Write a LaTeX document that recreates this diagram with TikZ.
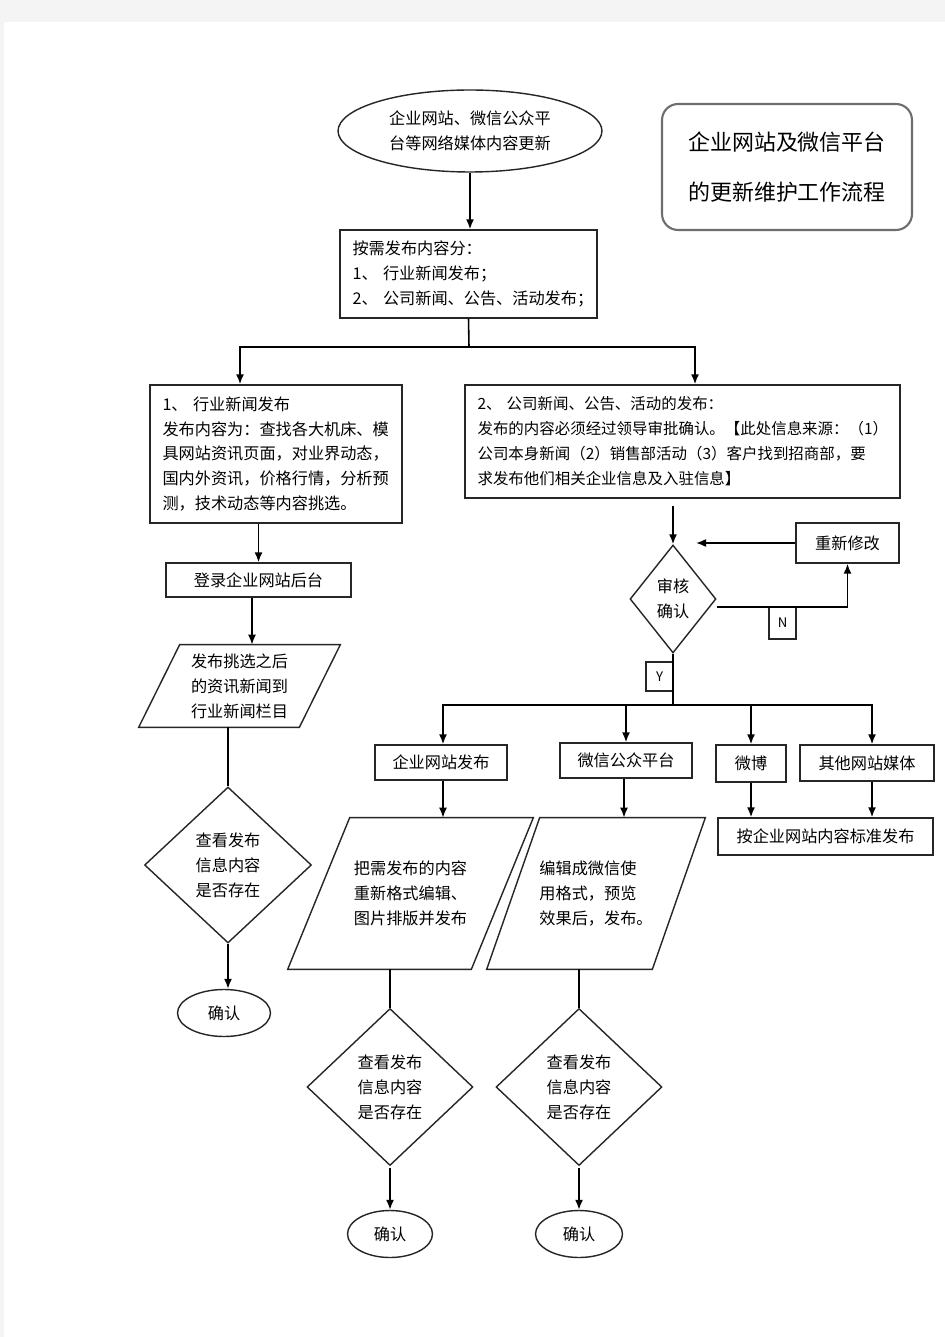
\documentclass[tikz,border=0pt]{standalone}
\usepackage{fontspec}
\setmainfont{Noto Sans CJK SC}
\usepackage{tikz}
\usetikzlibrary{arrows.meta, shapes.geometric}
\definecolor{pageGray}{HTML}{F4F4F4}
\definecolor{titleGray}{HTML}{6E6E6E}
\tikzstyle{fText} = [font=\fontsize{9.2}{14.2}\selectfont]
\tikzstyle{fBox} = [rectangle, draw=black!85, line width=0.8pt, fText, inner sep=0pt, align=center]
\tikzstyle{fNote} = [fBox, align=left, inner xsep=0.25cm]
\tikzstyle{fStartStop} = [ellipse, draw=black!85, line width=0.8pt, fText, inner sep=0pt, align=center]
\tikzstyle{fDecision} = [diamond, draw=black!85, line width=0.8pt, fText, inner sep=0pt, align=left]
\tikzstyle{fSlant} = [rectangle, fText, inner sep=0pt, align=left]
\tikzstyle{fTag} = [rectangle, draw=black!85, line width=0.6pt, font=\fontsize{7.5}{9}\selectfont, inner sep=0pt, minimum width=0.54cm]
\tikzstyle{fTitle} = [rectangle, rounded corners=0.32cm, draw=titleGray, line width=1.2pt, font=\fontsize{12.5}{28}\selectfont, align=center]
\tikzstyle{fArrow} = [line width=0.9pt, -{Latex[length=2mm, width=1.6mm]}]
\tikzstyle{fLine} = [line width=0.9pt]
\newcommand{\slantframe}[2]{\draw[draw=black!85, line width=0.8pt] (#1.south west) -- ([xshift=#2]#1.north west) -- (#1.north east) -- ([xshift=-#2]#1.south east) -- cycle;}

\begin{document}
\begin{tikzpicture}[x=0.02cm, y=-0.02cm]
    \fill[pageGray] (0,0) rectangle (945,1337);
    \fill[white] (4,22) rectangle (945,1337);
    \useasboundingbox (0,0) rectangle (945,1337);

    \node (start) [fStartStop, minimum width=5.28cm, minimum height=1.64cm] at (470,131) {企业网站、微信公众平\\台等网络媒体内容更新};
    \node (title) [fTitle, minimum width=5cm, minimum height=2.52cm] at (787,167) {企业网站及微信平台\\的更新维护工作流程};
    \node (sortBox) [fNote, minimum width=5.14cm, minimum height=1.76cm, text width=4.64cm] at (468.5,274) {按需发布内容分：\\1、~行业新闻发布；\\2、~公司新闻、公告、活动发布；};
    \node (industryBox) [fNote, minimum width=5.04cm, minimum height=2.76cm, text width=4.54cm] at (276,454) {1、~行业新闻发布\\发布内容为：查找各大机床、模\\具网站资讯页面，对业界动态，\\国内外资讯，价格行情，分析预\\测，技术动态等内容挑选。};
    \node (companyBox) [fNote, minimum width=8.7cm, minimum height=2.26cm, text width=8.2cm, font=\fontsize{8.8}{14.2}\selectfont] at (682.5,441.5) {2、~公司新闻、公告、活动的发布：\\发布的内容必须经过领导审批确认。【此处信息来源：（1）\\公司本身新闻（2）销售部活动（3）客户找到招商部，要\\求发布他们相关企业信息及入驻信息】};
    \node (login) [fBox, minimum width=3.7cm, minimum height=0.68cm] at (258.5,580) {登录企业网站后台};
    \node (postNews) [fSlant, minimum width=4.02cm, minimum height=1.64cm] at (239.5,686) {发布挑选之后\\的资讯新闻到\\行业新闻栏目};
    \node (checkA) [fDecision, minimum width=3.34cm, minimum height=3.12cm] at (228,865) {查看发布\\信息内容\\是否存在};
    \node (okA) [fStartStop, minimum width=1.86cm, minimum height=0.94cm] at (224,1013) {确认};

    \node (audit) [fDecision, minimum width=1.72cm, minimum height=2.16cm, aspect=0.8] at (673,599) {审核\\确认};
    \node (redo) [fBox, minimum width=2.06cm, minimum height=0.8cm] at (847.5,543) {重新修改};
    \node (tagN) [fTag, minimum height=0.64cm] at (782.5,623) {N};
    \node (tagY) [fTag, minimum height=0.58cm] at (659.5,676.5) {Y};
    \coordinate (split) at (469,347);
    \coordinate (bus) at (673,705);
    \coordinate (redoEnd) at (696,543);
    \node (siteBox) [fBox, minimum width=2.64cm, minimum height=0.7cm] at (441,762.5) {企业网站发布};
    \node (wechatBox) [fBox, minimum width=2.64cm, minimum height=0.7cm] at (626,760.5) {微信公众平台};
    \node (weiboBox) [fBox, minimum width=1.4cm, minimum height=0.74cm] at (751,763.5) {微博};
    \node (otherBox) [fBox, minimum width=2.68cm, minimum height=0.72cm] at (867,763) {其他网站媒体};
    \node (stdBox) [fBox, minimum width=4.3cm, minimum height=0.74cm] at (825.5,836.5) {按企业网站内容标准发布};
    \node (siteEdit) [fSlant, minimum width=4.9cm, minimum height=3.02cm] at (410.5,893.5) {把需发布的内容\\重新格式编辑、\\图片排版并发布};
    \node (wechatEdit) [fSlant, minimum width=4.36cm, minimum height=3.02cm] at (596,893.5) {编辑成微信使\\用格式，预览\\效果后，发布。};
    \node (checkB) [fDecision, minimum width=3.32cm, minimum height=3.14cm] at (390,1087) {查看发布\\信息内容\\是否存在};
    \node (checkC) [fDecision, minimum width=3.32cm, minimum height=3.14cm] at (579,1087) {查看发布\\信息内容\\是否存在};
    \node (okB) [fStartStop, minimum width=1.7cm, minimum height=0.94cm] at (390,1234) {确认};
    \node (okC) [fStartStop, minimum width=1.74cm, minimum height=0.94cm] at (579,1234) {确认};

    \slantframe{postNews}{0.82cm}
    \slantframe{siteEdit}{1.24cm}
    \slantframe{wechatEdit}{1.06cm}

    \draw [fArrow] (start.south) -- (start.south |- sortBox.north);
    \draw [fLine] (sortBox.south) -- (split);
    \draw [fArrow] (split) -| ([xshift=-0.72cm]industryBox.north);
    \draw [fArrow] (split) -| ([xshift=0.25cm]companyBox.north);
    \draw [fArrow] (industryBox.south -| login.north) -- (login.north);
    \draw [fArrow] ([xshift=-0.13cm]login.south) -- ([xshift=-0.13cm]login.south |- postNews.north);
    \draw [fLine] (postNews.south -| checkA.north) -- (checkA.north);
    \draw [fArrow] (checkA.south) -- (checkA.south |- okA.north);
    \draw [fArrow] ([yshift=-0.14cm]companyBox.south -| audit.north) -- (audit.north);
    \draw [fArrow] (redo.west) -- (redoEnd);
    \draw [fArrow] ([yshift=-0.16cm]audit.east) -| (redo.south);
    \draw [fLine] (audit.south) -- (bus);
    \draw [fArrow] (bus) -| ([xshift=0.04cm]siteBox.north);
    \draw [fArrow] (bus) -| (wechatBox.north);
    \draw [fArrow] (bus) -| (weiboBox.north);
    \draw [fArrow] (bus) -| ([xshift=0.1cm]otherBox.north);
    \draw [fArrow] (weiboBox.south) -- (weiboBox.south |- stdBox.north);
    \draw [fArrow] ([xshift=0.1cm]otherBox.south) -- ([xshift=0.1cm]otherBox.south |- stdBox.north);
    \draw [fArrow] ([xshift=0.04cm]siteBox.south) -- ([xshift=0.04cm]siteBox.south |- siteEdit.north);
    \draw [fArrow] ([xshift=-0.04cm]wechatBox.south) -- ([xshift=-0.04cm]wechatBox.south |- wechatEdit.north);
    \draw [fLine] (siteEdit.south -| checkB.north) -- (checkB.north);
    \draw [fLine] (wechatEdit.south -| checkC.north) -- (checkC.north);
    \draw [fArrow] ([yshift=-0.04cm]checkB.south) -- (checkB.south |- okB.north);
    \draw [fArrow] ([yshift=-0.04cm]checkC.south) -- (checkC.south |- okC.north);
\end{tikzpicture}
\end{document}
